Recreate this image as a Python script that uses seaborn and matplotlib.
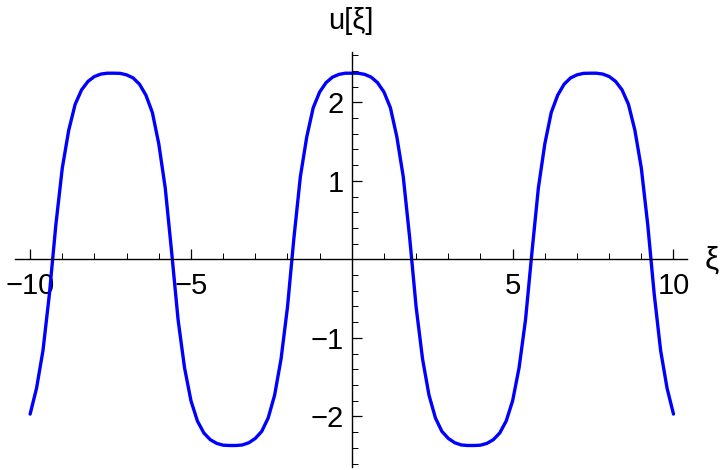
import numpy as np
import pandas as pd
import seaborn as sns
import matplotlib.pyplot as plt
from matplotlib.ticker import MultipleLocator, FixedLocator

# values (xi, u[xi])
xi_pos = [0.0, 0.2, 0.4, 0.6, 0.8, 1.0, 1.2, 1.4, 1.6, 1.8,
          2.0, 2.2, 2.4, 2.6, 2.8, 3.0, 3.2, 3.4, 3.6, 3.8,
          4.0, 4.2, 4.4, 4.6, 4.8, 5.0, 5.2, 5.4, 5.6, 5.8,
          6.0, 6.2, 6.4, 6.6, 6.8, 7.0, 7.2, 7.4, 7.6, 7.8,
          8.0, 8.2, 8.4, 8.6, 8.8, 9.0, 9.2, 9.4, 9.6, 9.8, 10.0]
u_pos = [2.37, 2.37, 2.355, 2.32, 2.25, 2.13, 1.93, 1.56, 1.05, 0.27,
         -0.61, -1.27, -1.73, -2.02, -2.19, -2.28, -2.335, -2.363, -2.37, -2.37,
         -2.366, -2.343, -2.296, -2.21, -2.058, -1.80, -1.38, -0.77, 0.09, 0.91,
         1.47, 1.87, 2.09, 2.23, 2.31, 2.349, 2.368, 2.37, 2.37, 2.359,
         2.328, 2.266, 2.158, 1.974, 1.644, 1.162, 0.44, -0.44, -1.16, -1.64, -1.97]

x_major = [-10, -5, 5, 10]
x_labels = ["\u221210", "\u22125", "5", "10"]
y_major = [-2, -1, 1, 2]
y_labels = ["\u22122", "\u22121", "1", "2"]

df = pd.DataFrame({
    "xi": [-v for v in xi_pos[:0:-1]] + xi_pos,
    "u": u_pos[:0:-1] + u_pos,
})

sns.set_style("white")
plt.rcParams["font.family"] = ["Liberation Sans", "DejaVu Sans"]
plt.rcParams["text.color"] = "black"

fig = plt.figure(figsize=(7.2, 4.7), dpi=100)
ax = fig.add_axes([15 / 720, 3.3 / 470, 672 / 720, 414.7 / 470])

sns.lineplot(data=df, x="xi", y="u", ax=ax, color="#0000ff", linewidth=2.4,
             sort=False, estimator=None)

ax.set_xlim(-10.47, 10.42)
ax.set_ylim(-2.64, 2.64)
ax.set_xlabel("")
ax.set_ylabel("")

for side in ["top", "right"]:
    ax.spines[side].set_visible(False)
ax.spines["bottom"].set_position("zero")
ax.spines["left"].set_position("zero")
for side in ["bottom", "left"]:
    ax.spines[side].set_linewidth(1.0)
    ax.spines[side].set_color("black")

ax.xaxis.set_major_locator(FixedLocator(x_major))
ax.set_xticklabels(x_labels)
ax.yaxis.set_major_locator(FixedLocator(y_major))
ax.set_yticklabels(y_labels)
ax.xaxis.set_minor_locator(MultipleLocator(1))
ax.yaxis.set_minor_locator(MultipleLocator(0.2))

ax.tick_params(axis="x", which="major", direction="in", length=7, width=0.9,
               labelsize=21, pad=9, bottom=True, colors="black")
ax.tick_params(axis="x", which="minor", direction="in", length=4, width=0.7,
               bottom=True, colors="black")
ax.tick_params(axis="y", which="major", direction="in", length=7, width=0.9,
               labelsize=21, pad=6, left=True, colors="black")
ax.tick_params(axis="y", which="minor", direction="in", length=4, width=0.7,
               left=True, colors="black")

fig.text(712 / 720, 1 - 261 / 470, "\u03be", fontsize=23, ha="center",
         va="center", color="black")
fig.text(351 / 720, 1 - 21 / 470, "u[\u03be]", fontsize=21, ha="center",
         va="center", color="black")

fig.savefig("out.png", dpi=100)
